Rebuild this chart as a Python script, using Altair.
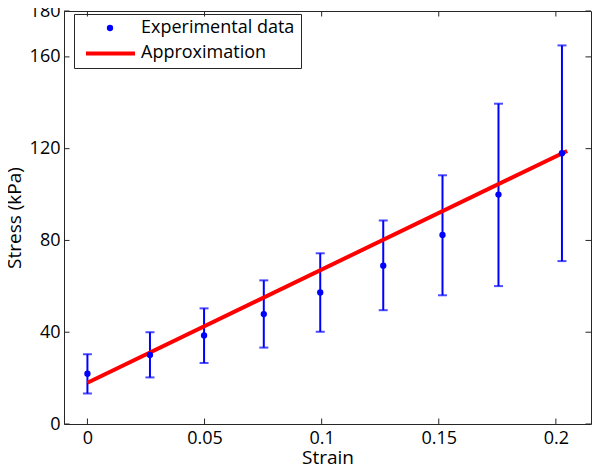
import altair as alt
import pandas as pd

# ---- data ----
strain = [0.0, 0.0267, 0.0498, 0.0753, 0.0994, 0.1263, 0.1516, 0.1755, 0.2026]
stress = [21.9, 30.1, 38.6, 47.9, 57.3, 69.0, 82.4, 100.0, 118.0]
err_low = [13.3, 20.3, 26.6, 33.3, 40.2, 49.6, 56.1, 60.1, 71.0]
err_high = [30.4, 40.0, 50.4, 62.6, 74.4, 88.7, 108.4, 139.6, 165.0]
fit_strain = [0.0, 0.2048]
fit_stress = [18.0, 119.0]
x_ticks = [0, 0.05, 0.1, 0.15, 0.2]
y_ticks = [0, 40, 80, 120, 160, 180]
series_names = ["Experimental data", "Approximation"]

BLUE = "#0000ff"
RED = "#ff0000"
AX = "#262626"
FONT = "Open Sans"

pts = pd.DataFrame({"strain": strain, "stress": stress, "lo": err_low, "hi": err_high,
                    "series": [series_names[0]] * len(strain)})
fit = pd.DataFrame({"strain": fit_strain, "stress": fit_stress,
                    "series": [series_names[1]] * len(fit_strain)})
xt = pd.DataFrame({"t": x_ticks})
yt = pd.DataFrame({"t": y_ticks})

W, H = 527, 413
TL = 5.5

xs = alt.Scale(domain=[-0.01, 0.215], nice=False, zero=False)
ys = alt.Scale(domain=[0, 180], nice=False, zero=False)
xax = alt.Axis(values=x_ticks, title="Strain", format="~g")
yax = alt.Axis(values=y_ticks, title="Stress (kPa)", format="d")

X = lambda f: alt.X(f, scale=xs, axis=xax)
Y = lambda f: alt.Y(f, scale=ys, axis=yax)

tick_bottom = alt.Chart(xt).mark_rule(color=AX, strokeWidth=1).encode(
    x=X("t:Q"), y=alt.value(H), y2=alt.value(H - TL))
tick_top = alt.Chart(xt).mark_rule(color=AX, strokeWidth=1).encode(
    x=X("t:Q"), y=alt.value(0), y2=alt.value(TL))
tick_left = alt.Chart(yt).mark_rule(color=AX, strokeWidth=1).encode(
    y=Y("t:Q"), x=alt.value(0), x2=alt.value(TL))
tick_right = alt.Chart(yt).mark_rule(color=AX, strokeWidth=1).encode(
    y=Y("t:Q"), x=alt.value(W), x2=alt.value(W - TL))

bars = alt.Chart(pts).mark_rule(color=BLUE, strokeWidth=2).encode(
    x=X("strain:Q"), y=Y("lo:Q"), y2="hi:Q")
caps = alt.Chart(pts).transform_fold(["lo", "hi"], as_=["k", "v"]).mark_tick(
    color=BLUE, orient="horizontal", size=9, thickness=2).encode(
    x=X("strain:Q"), y=Y("v:Q"))

leg1 = alt.Legend(title=None, orient="none", legendX=10, legendY=3, padding=6,
                  strokeColor=AX, symbolType="circle",
                  symbolSize=40, symbolStrokeWidth=0, symbolOffset=21,
                  labelOffset=22, rowPadding=7, clipHeight=16,
                  labelFontSize=18, labelFont=FONT, labelColor="black", labelLimit=400)
leg2 = alt.Legend(title=None, orient="none", legendX=20, legendY=16, padding=0,
                  symbolType="stroke", symbolSize=2401, symbolStrokeWidth=4,
                  labelExpr="''", labelFontSize=18, labelFont=FONT)

line = alt.Chart(fit).mark_line(strokeWidth=4).encode(
    x=X("strain:Q"), y=Y("stress:Q"),
    stroke=alt.Stroke("series:N", scale=alt.Scale(domain=[series_names[1]], range=[RED]),
                      legend=leg2))
points = alt.Chart(pts).mark_circle(size=40, opacity=1).encode(
    x=X("strain:Q"), y=Y("stress:Q"),
    fill=alt.Fill("series:N", scale=alt.Scale(domain=series_names, range=[BLUE, "transparent"]),
                  legend=leg1))

chart = alt.layer(tick_bottom, tick_top, tick_left, tick_right, bars, caps, line, points).resolve_legend(
    fill="independent", stroke="independent"
).properties(
    width=W, height=H,
    autosize=alt.AutoSizeParams(type="none"),
    padding={"left": 56, "top": 3, "right": 1, "bottom": 42},
).configure_view(stroke=AX, strokeWidth=1).configure_axis(
    labelFont=FONT, labelFontSize=18, labelColor="black",
    titleFont=FONT, titleFontSize=19, titleFontWeight="normal", titleColor="black",
    grid=False, ticks=False, domain=False,
).configure_axisX(labelPadding=5, titlePadding=1).configure_axisY(labelPadding=4, titlePadding=5)

chart.save("out.html", embed_options={"renderer": "svg", "actions": False})
